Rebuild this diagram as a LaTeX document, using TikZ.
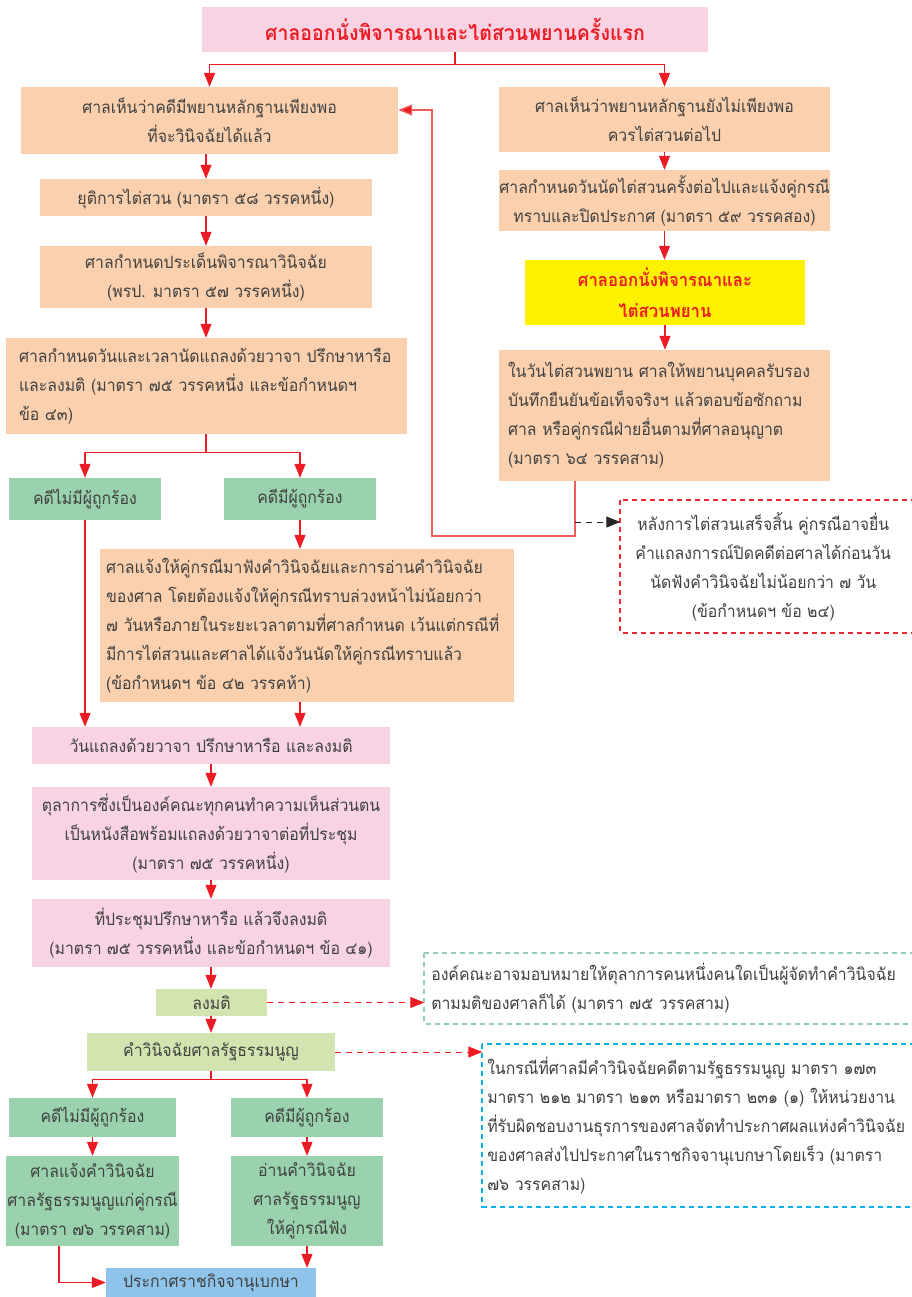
\documentclass[tikz,border=0pt]{standalone}
\usepackage{fontspec}
\newfontfamily\thai[Script=Thai,FakeStretch=0.93]{Loma}
\usetikzlibrary{arrows.meta}
\definecolor{peach}{HTML}{FBD0AE}
\definecolor{pinkb}{HTML}{F8D3E4}
\definecolor{greenb}{HTML}{99D2AC}
\definecolor{lgreen}{HTML}{D2E5B0}
\definecolor{blueb}{HTML}{8EC4EA}
\definecolor{yellowb}{HTML}{FFF200}
\definecolor{ared}{HTML}{ED1C24}
\definecolor{loopred}{HTML}{EF5B5B}
\definecolor{txt}{HTML}{404040}
\definecolor{noteRed}{RGB}{240,40,50}
\definecolor{noteGreen}{RGB}{140,208,175}
\definecolor{noteBlue}{RGB}{10,175,230}
\newcommand\bx[7]{\node[#6, minimum width={(#4)-(#2)}, minimum height={(#5)-(#3)}] (#1) at ({((#2)+(#4))/2},{((#3)+(#5))/2}) {#7};}
\tikzset{
  bxbase/.style={rectangle, inner sep=0pt, text=txt, font=\thai\fontsize{17}{29}\selectfont, align=center},
  peachbox/.style={bxbase, fill=peach},
  pinkbox/.style={bxbase, fill=pinkb},
  greenbox/.style={bxbase, fill=greenb},
  lgreenbox/.style={bxbase, fill=lgreen},
  bluebox/.style={bxbase, fill=blueb},
  yellowbox/.style={bxbase, fill=yellowb, text=ared, font=\thai\bfseries\fontsize{18}{31}\selectfont},
  notebox/.style={bxbase},
  arr/.style={draw=ared, line width=1.2pt, -{Triangle[width=11pt,length=14pt]}},
  ln/.style={draw=ared, line width=1.2pt},
  looparr/.style={draw=loopred, line width=1.4pt, -{Triangle[width=11pt,length=14pt,fill=ared]}},
  blkdash/.style={draw=black!85, line width=1pt, dash pattern=on 6pt off 5pt, -{Triangle[width=11pt,length=14pt]}},
  reddasharr/.style={draw=ared, line width=1pt, dash pattern=on 6pt off 5pt, -{Triangle[width=11pt,length=14pt]}},
  noteframe/.style={line width=1.7pt, dash pattern=on 5pt off 4pt},
}
\begin{document}
\begin{tikzpicture}[x=1pt,y=-1pt]
\useasboundingbox (0,0) rectangle (911,1297);
% left column
\bx{top}{202}{7}{708}{52}{pinkbox, text=ared, font=\thai\bfseries\fontsize{21}{30}\selectfont}{ศาลออกนั่งพิจารณาและไต่สวนพยานครั้งแรก}
\bx{A}{21}{87}{398}{154}{peachbox}{ศาลเห็นว่าคดีมีพยานหลักฐานเพียงพอ\\ที่จะวินิจฉัยได้แล้ว}
\bx{B}{499}{87}{830}{152}{peachbox}{ศาลเห็นว่าพยานหลักฐานยังไม่เพียงพอ\\ควรไต่สวนต่อไป}
\bx{C}{40}{179}{372}{216}{peachbox}{ยุติการไต่สวน (มาตรา ๕๘ วรรคหนึ่ง)}
\bx{D}{40}{246}{372}{308}{peachbox}{ศาลกำหนดประเด็นพิจารณาวินิจฉัย\\(พรป. มาตรา ๕๗ วรรคหนึ่ง)}
\bx{E}{6}{338}{407}{434}{peachbox, align=left, text width=375pt}{ศาลกำหนดวันและเวลานัดแถลงด้วยวาจา ปรึกษาหารือ\\และลงมติ (มาตรา ๗๕ วรรคหนึ่ง และข้อกำหนดฯ\\ข้อ ๔๓)}
\bx{F1}{9}{478}{161}{520}{greenbox}{คดีไม่มีผู้ถูกร้อง}
\bx{F2}{224}{478}{376}{520}{greenbox}{คดีมีผู้ถูกร้อง}
\bx{G}{100}{549}{514}{702}{peachbox, align=left, text width=402pt}{ศาลแจ้งให้คู่กรณีมาฟังคำวินิจฉัยและการอ่านคำวินิจฉัย\\ของศาล โดยต้องแจ้งให้คู่กรณีทราบล่วงหน้าไม่น้อยกว่า\\๗ วันหรือภายในระยะเวลาตามที่ศาลกำหนด เว้นแต่กรณีที่\\มีการไต่สวนและศาลได้แจ้งวันนัดให้คู่กรณีทราบแล้ว\\(ข้อกำหนดฯ ข้อ ๔๒ วรรคห้า)}
\bx{H}{32}{727}{390}{764}{pinkbox}{วันแถลงด้วยวาจา ปรึกษาหารือ และลงมติ}
\bx{I}{32}{787}{390}{880}{pinkbox}{ตุลาการซึ่งเป็นองค์คณะทุกคนทำความเห็นส่วนตน\\เป็นหนังสือพร้อมแถลงด้วยวาจาต่อที่ประชุม\\(มาตรา ๗๕ วรรคหนึ่ง)}
\bx{J}{32}{899}{390}{967}{pinkbox}{ที่ประชุมปรึกษาหารือ แล้วจึงลงมติ\\(มาตรา ๗๕ วรรคหนึ่ง และข้อกำหนดฯ ข้อ ๔๑)}
\bx{K}{156}{989}{267}{1016}{lgreenbox}{ลงมติ}
\bx{L}{87}{1033}{335}{1071}{lgreenbox}{คำวินิจฉัยศาลรัฐธรรมนูญ}
\bx{M1}{9}{1098}{176}{1137}{greenbox}{คดีไม่มีผู้ถูกร้อง}
\bx{M2}{231}{1098}{383}{1137}{greenbox}{คดีมีผู้ถูกร้อง}
\bx{N1}{6}{1156}{179}{1246}{greenbox}{ศาลแจ้งคำวินิจฉัย\\ศาลรัฐธรรมนูญแก่คู่กรณี\\(มาตรา ๗๖ วรรคสาม)}
\bx{N2}{231}{1156}{383}{1246}{greenbox}{อ่านคำวินิจฉัย\\ศาลรัฐธรรมนูญ\\ให้คู่กรณีฟัง}
\bx{O}{106}{1268}{316}{1297}{bluebox}{ประกาศราชกิจจานุเบกษา}
% right column
\bx{P}{499}{170}{830}{231}{peachbox}{ศาลกำหนดวันนัดไต่สวนครั้งต่อไปและแจ้งคู่กรณี\\ทราบและปิดประกาศ (มาตรา ๕๙ วรรคสอง)}
\bx{Q}{525}{260}{805}{325}{yellowbox}{ศาลออกนั่งพิจารณาและ\\ไต่สวนพยาน}
\bx{R}{499}{350}{830}{481}{peachbox, align=left, text width=313pt}{ในวันไต่สวนพยาน ศาลให้พยานบุคคลรับรอง\\บันทึกยืนยันข้อเท็จจริงฯ แล้วตอบข้อซักถาม\\ศาล หรือคู่กรณีฝ่ายอื่นตามที่ศาลอนุญาต\\(มาตรา ๖๔ วรรคสาม)}
\bx{S}{620.5}{500.5}{906}{632.5}{notebox}{หลังการไต่สวนเสร็จสิ้น คู่กรณีอาจยื่น\\คำแถลงการณ์ปิดคดีต่อศาลได้ก่อนวัน\\นัดฟังคำวินิจฉัยไม่น้อยกว่า ๗ วัน\\(ข้อกำหนดฯ ข้อ ๒๔)}
\bx{T}{424.5}{953.5}{910}{1023.5}{notebox, align=left, text width=472pt}{องค์คณะอาจมอบหมายให้ตุลาการคนหนึ่งคนใดเป็นผู้จัดทำคำวินิจฉัย\\ตามมติของศาลก็ได้ (มาตรา ๗๕ วรรคสาม)}
\bx{U}{482.5}{1044.5}{910}{1206.5}{notebox, align=left, text width=418pt}{ในกรณีที่ศาลมีคำวินิจฉัยคดีตามรัฐธรรมนูญ มาตรา ๑๗๓\\มาตรา ๒๑๒ มาตรา ๒๑๓ หรือมาตรา ๒๓๑ (๑) ให้หน่วยงาน\\ที่รับผิดชอบงานธุรการของศาลจัดทำประกาศผลแห่งคำวินิจฉัย\\ของศาลส่งไปประกาศในราชกิจจานุเบกษาโดยเร็ว (มาตรา\\๗๖ วรรคสาม)}
\draw[noteframe, draw=noteRed] (S.north west) rectangle ([xshift=40pt]S.south east);
\draw[noteframe, draw=noteGreen] (T.north west) rectangle ([xshift=40pt]T.south east);
\draw[noteframe, draw=noteBlue] (U.north west) rectangle ([xshift=40pt]U.south east);
% connectors
\draw[ln] (top.south) -- ++(0,12) coordinate (tj);
\draw[arr] (tj) -| (A.north);
\draw[arr] (tj) -| (B.north);
\draw[arr] (C.north|-A.south) -- (C.north);
\draw[arr] (C.south) -- (D.north);
\draw[arr] (D.south) -- (D.south|-E.north);
\draw[ln] (D.south|-E.south) -- ++(0,18) coordinate (ej);
\draw[arr] (ej) -| (F1.north);
\draw[arr] (ej) -| (F2.north);
\draw[arr] (F2.south) -- (F2.south|-G.north);
\draw[arr] (F1.south) -- (F1.south|-H.north);
\draw[arr] (F2.south|-G.south) -- (F2.south|-H.north);
\draw[arr] (H.south) -- (I.north);
\draw[arr] (I.south) -- (J.north);
\draw[arr] (J.south) -- (J.south|-K.north);
\draw[arr] (J.south|-K.south) -- (J.south|-L.north);
\draw[ln] (J.south|-L.south) -- ++(0,8) coordinate (lj);
\draw[arr] (lj) -| (M1.north);
\draw[arr] (lj) -| (M2.north);
\draw[arr] (M1.south) -- (M1.south|-N1.north);
\draw[arr] (M2.south) -- (M2.south|-N2.north);
\coordinate (n1b) at (59,1246);
\draw[arr] (n1b) |- (O.west);
\draw[arr] (N2.south) -- (N2.south|-O.north);
\draw[arr] (B.south) -- (B.south|-P.north);
\draw[arr] (P.south) -- (P.south|-Q.north);
\draw[arr] (Q.south) -- (Q.south|-R.north);
\coordinate (rb) at (575,481);
\coordinate (rl) at (575,536);
\coordinate (lu) at (432,110);
\draw[looparr] (rb) -- (rl) -| (lu) -- (A.east|-lu);
\coordinate (dk) at (575,522);
\draw[blkdash] (dk) -- (S.west|-dk);
\draw[reddasharr] (K.east) -- (T.west|-K.east);
\draw[reddasharr] (L.east) -- (U.west|-L.east);
\end{tikzpicture}
\end{document}
